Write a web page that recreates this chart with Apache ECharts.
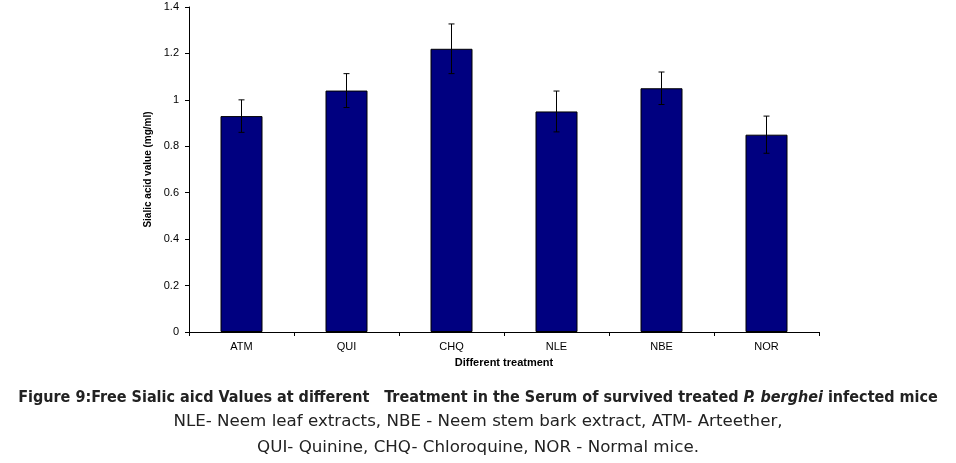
<!DOCTYPE html>
<html>
<head>
<meta charset="utf-8">
<script src="https://cdn.jsdelivr.net/npm/echarts@6/dist/echarts.min.js"></script>
<style>
  html, body { margin: 0; padding: 0; background: #fff; }
  #chart { width: 956px; height: 463px; }
</style>
</head>
<body>
<div id="chart"></div>
<script>
// treatments and sialic acid values (mg/ml) with error bar half-widths
const categories = ['ATM', 'QUI', 'CHQ', 'NLE', 'NBE', 'NOR'];
const values = [0.93, 1.04, 1.22, 0.95, 1.05, 0.85];
const errors = [0.07, 0.073, 0.107, 0.088, 0.07, 0.08];

const errData = values.map((v, i) => [i, v - errors[i], v + errors[i]]);

const chart = echarts.init(document.getElementById('chart'));

const axisFont = { color: '#000', fontFamily: 'Arial, "Liberation Sans", sans-serif', fontSize: 11 };
const capFont = '"DejaVu Sans Condensed", "DejaVu Sans", sans-serif';

chart.setOption({
    animation: false,
    grid: { left: 189, right: 137, top: 7, bottom: 131 },
    xAxis: {
        type: 'category',
        data: categories,
        name: 'Different treatment',
        nameLocation: 'middle',
        nameGap: 25,
        nameTextStyle: { ...axisFont, fontWeight: 'bold' },
        axisLine: { lineStyle: { color: '#000', width: 1 } },
        axisTick: { show: true, length: 4, lineStyle: { color: '#000' } },
        axisLabel: { ...axisFont, margin: 9 },
        splitLine: { show: false }
    },
    yAxis: {
        type: 'value',
        min: 0,
        max: 1.4,
        interval: 0.2,
        name: 'Sialic acid value (mg/ml)',
        nameLocation: 'middle',
        nameGap: 35,
        nameTextStyle: { ...axisFont, fontSize: 10, fontWeight: 'bold' },
        axisLine: { show: true, lineStyle: { color: '#000', width: 1 } },
        axisTick: { show: true, length: 4, lineStyle: { color: '#000' } },
        axisLabel: { ...axisFont, margin: 10 },
        splitLine: { show: false }
    },
    series: [
        {
            type: 'bar',
            data: values,
            barWidth: '40%',
            itemStyle: { color: '#000080', borderColor: '#000', borderWidth: 1 }
        },
        {
            type: 'custom',
            data: errData,
            z: 10,
            renderItem: (params, api) => {
                const x = api.value(0);
                const lo = api.coord([x, api.value(1)]);
                const hi = api.coord([x, api.value(2)]);
                const cap = 3;
                const style = { stroke: '#000', lineWidth: 1 };
                return {
                    type: 'group',
                    children: [
                        { type: 'line', shape: { x1: hi[0], y1: hi[1], x2: lo[0], y2: lo[1] }, style },
                        { type: 'line', shape: { x1: hi[0] - cap, y1: hi[1], x2: hi[0] + cap, y2: hi[1] }, style },
                        { type: 'line', shape: { x1: lo[0] - cap, y1: lo[1], x2: lo[0] + cap, y2: lo[1] }, style }
                    ]
                };
            }
        }
    ],
    graphic: [
        {
            type: 'text',
            left: 'center',
            top: 390,
            style: {
                text: '{b|Figure 9:Free Sialic aicd Values at different   Treatment in the Serum of survived treated }{bi|P. berghei}{b| infected mice}',
                rich: {
                    b: { fontFamily: capFont, fontSize: 16, fontWeight: 'bold', fill: '#222' },
                    bi: { fontFamily: capFont, fontSize: 16, fontWeight: 'bold', fontStyle: 'italic', fill: '#222' }
                }
            }
        },
        {
            type: 'text',
            left: 'center',
            top: 413,
            style: {
                text: 'NLE- Neem leaf extracts, NBE - Neem stem bark extract, ATM- Arteether,',
                font: '16.7px "DejaVu Sans", sans-serif',
                fill: '#222'
            }
        },
        {
            type: 'text',
            left: 'center',
            top: 439,
            style: {
                text: 'QUI- Quinine, CHQ- Chloroquine, NOR - Normal mice.',
                font: '16.7px "DejaVu Sans", sans-serif',
                fill: '#222'
            }
        }
    ]
});
</script>
</body>
</html>
